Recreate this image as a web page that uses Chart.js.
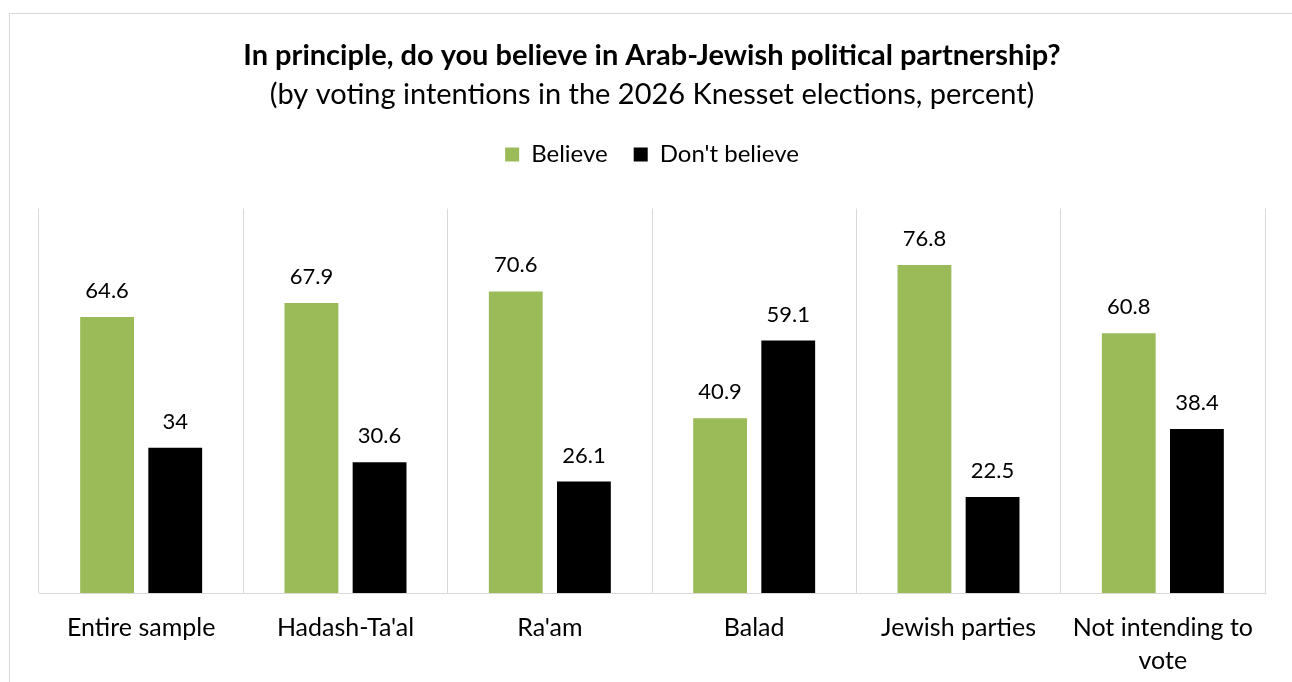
<!DOCTYPE html>
<html>
<head>
<meta charset="utf-8">
<script src="https://cdn.jsdelivr.net/npm/chart.js@4/dist/chart.umd.min.js"></script>
<style>
  html, body { margin: 0; padding: 0; background: #fff; }
  #wrap { position: relative; width: 1292px; height: 682px; }
</style>
</head>
<body>
<div id="wrap"><canvas id="chart" width="1292" height="682"></canvas></div>
<script>
const categories = [
  'Entire sample',
  'Hadash-Ta\'al',
  'Ra\'am',
  'Balad',
  'Jewish parties',
  ['Not intending to', 'vote']
];
const believe = [64.6, 67.9, 70.6, 40.9, 76.8, 60.8];
const dontBelieve = [34, 30.6, 26.1, 59.1, 22.5, 38.4];

const FONT = 'Lato, "Open Sans", sans-serif';

// labels above each bar
const valueLabels = {
  id: 'valueLabels',
  afterDatasetsDraw(chart) {
    const ctx = chart.ctx;
    ctx.save();
    ctx.font = '22px ' + FONT;
    ctx.fillStyle = '#000';
    ctx.textAlign = 'center';
    ctx.textBaseline = 'alphabetic';
    chart.data.datasets.forEach((ds, i) => {
      chart.getDatasetMeta(i).data.forEach((bar, j) => {
        ctx.fillText(String(ds.data[j]), bar.x, bar.y - 19);
      });
    });
    ctx.restore();
  }
};

// outer chart frame
const frame = {
  id: 'frame',
  beforeDraw(chart) {
    const ctx = chart.ctx;
    ctx.save();
    ctx.strokeStyle = '#d9d9d9';
    ctx.lineWidth = 1;
    ctx.strokeRect(9.5, 13.5, 1400, 800);
    ctx.restore();
  }
};

// empty box between legend and plot
const legendGap = {
  id: 'legendGap',
  beforeInit(chart) {
    Chart.layouts.addBox(chart, {
      position: 'top',
      weight: 500,
      fullSize: true,
      options: {},
      isHorizontal() { return true; },
      update(maxWidth) { this.width = maxWidth; this.height = 32; },
      draw() {}
    });
  }
};

new Chart(document.getElementById('chart'), {
  type: 'bar',
  data: {
    labels: categories,
    datasets: [
      {
        label: 'Believe',
        data: believe,
        backgroundColor: '#9bbb59',
        categoryPercentage: 0.667,
        barPercentage: 0.79
      },
      {
        label: 'Don\'t believe',
        data: dontBelieve,
        backgroundColor: '#000000',
        categoryPercentage: 0.667,
        barPercentage: 0.79
      }
    ]
  },
  options: {
    responsive: false,
    animation: false,
    layout: {
      padding: { left: 39, right: 27, top: 20, bottom: -14 }
    },
    scales: {
      x: {
        grid: { color: '#d9d9d9', drawTicks: false, offset: true },
        border: { color: '#d9d9d9' },
        ticks: {
          color: '#000',
          font: { family: FONT, size: 25, lineHeight: 1.3 },
          padding: 19,
          maxRotation: 0,
          autoSkip: false
        }
      },
      y: {
        display: false,
        min: 0,
        max: 90
      }
    },
    plugins: {
      title: {
        display: true,
        text: 'In principle, do you believe in Arab-Jewish political partnership?',
        color: '#000',
        font: { family: FONT, size: 29, weight: 'bold' },
        padding: { top: 18, bottom: 0 }
      },
      subtitle: {
        display: true,
        text: '(by voting intentions in the 2026 Knesset elections, percent)',
        color: '#000',
        font: { family: FONT, size: 29 },
        padding: { top: 4, bottom: 5 }
      },
      legend: {
        position: 'top',
        labels: {
          color: '#000',
          font: { family: FONT, size: 24 },
          boxWidth: 14,
          boxHeight: 14,
          padding: 26
        }
      },
      tooltip: { enabled: false }
    }
  },
  plugins: [frame, valueLabels, legendGap]
});
</script>
</body>
</html>
